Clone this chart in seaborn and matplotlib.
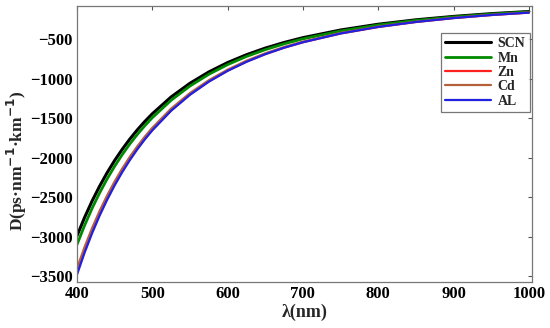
import matplotlib
matplotlib.use("Agg")
import matplotlib.pyplot as plt
import seaborn as sns
import pandas as pd

# wavelength (nm) and dispersion D (ps/nm/km)
wavelength = [400, 410, 420, 430, 440, 450, 460, 470, 480, 490, 500, 525, 550, 575,
              600, 625, 650, 675, 700, 750, 800, 850, 900, 950, 1000]
d_scn = [-2990, -2759, -2550, -2362, -2191, -2036, -1896, -1767, -1650, -1543, -1445, -1232, -1059, -916,
         -797, -698, -614, -543, -482, -385, -312, -256, -213, -178, -151]
d_mn = [-3100, -2860, -2643, -2447, -2270, -2109, -1963, -1829, -1708, -1597, -1495, -1274, -1094, -946,
        -823, -720, -634, -560, -497, -398, -322, -264, -220, -184, -155]
d_zn = [-3450, -3179, -2935, -2714, -2515, -2335, -2170, -2021, -1885, -1761, -1647, -1400, -1200, -1036,
        -900, -785, -690, -609, -540, -429, -347, -284, -234, -196, -165]
d_cd = [-3400, -3133, -2892, -2675, -2479, -2301, -2139, -1992, -1858, -1735, -1623, -1380, -1183, -1021,
        -887, -774, -680, -600, -532, -423, -342, -280, -231, -193, -163]
d_al = [-3480, -3205, -2958, -2735, -2534, -2351, -2185, -2034, -1896, -1770, -1655, -1407, -1205, -1039,
        -902, -788, -691, -609, -540, -429, -346, -283, -234, -195, -165]

series = {"SCN": d_scn, "Mn": d_mn, "Zn": d_zn, "Cd": d_cd, "AL": d_al}
colors = {"SCN": "black", "Mn": "#008a00", "Zn": "#ff2020", "Cd": "#b5603c", "AL": "#2020e0"}
widths = {"SCN": 2.2, "Mn": 2.0, "Zn": 1.6, "Cd": 1.6, "AL": 1.6}

rows = []
for name, vals in series.items():
    for lam, d in zip(wavelength, vals):
        rows.append({"lambda": lam, "D": d, "sample": name})
df = pd.DataFrame(rows)

sns.set_style("white")
plt.rcParams["font.family"] = ["Liberation Serif", "DejaVu Serif"]
plt.rcParams["font.weight"] = "bold"

fig = plt.figure(figsize=(5.5, 3.28), dpi=100)
ax = fig.add_axes([0.14, 0.14, 0.827, 0.842])

for name in series:
    sns.lineplot(data=df[df["sample"] == name], x="lambda", y="D", color=colors[name],
                 linewidth=widths[name], label=name, ax=ax)

ax.set_xlim(400, 1004)
ax.set_ylim(-3575, -80)
ax.set_xticks([400, 500, 600, 700, 800, 900, 1000])
ax.set_yticks([-3500, -3000, -2500, -2000, -1500, -1000, -500])
ax.tick_params(direction="in", top=True, right=True, length=3, labelsize=12, colors="#555555",
               labelcolor="black", width=0.8, pad=3)
for lab in ax.get_xticklabels() + ax.get_yticklabels():
    lab.set_fontweight("bold")
for s in ax.spines.values():
    s.set_color("#777777")
    s.set_linewidth(0.9)

ax.set_xlabel("λ(nm)", fontsize=13, fontweight="bold", labelpad=1)
ax.set_ylabel("D(ps·nm$^{\\mathbf{-1}}$·km$^{\\mathbf{-1}}$)", fontsize=12.5, fontweight="bold")
ax.yaxis.set_label_coords(-0.105, 0.44)

leg = ax.legend(loc="upper right", bbox_to_anchor=(0.995, 0.902), fontsize=10, handlelength=3.3,
                frameon=True, fancybox=False, borderpad=0.3, labelspacing=0.1, handletextpad=0.5,
                borderaxespad=0)
leg.get_frame().set_edgecolor("#555555")
leg.get_frame().set_linewidth(0.9)
for t in leg.get_texts():
    t.set_fontweight("bold")

fig.savefig("out.png", dpi=100)
